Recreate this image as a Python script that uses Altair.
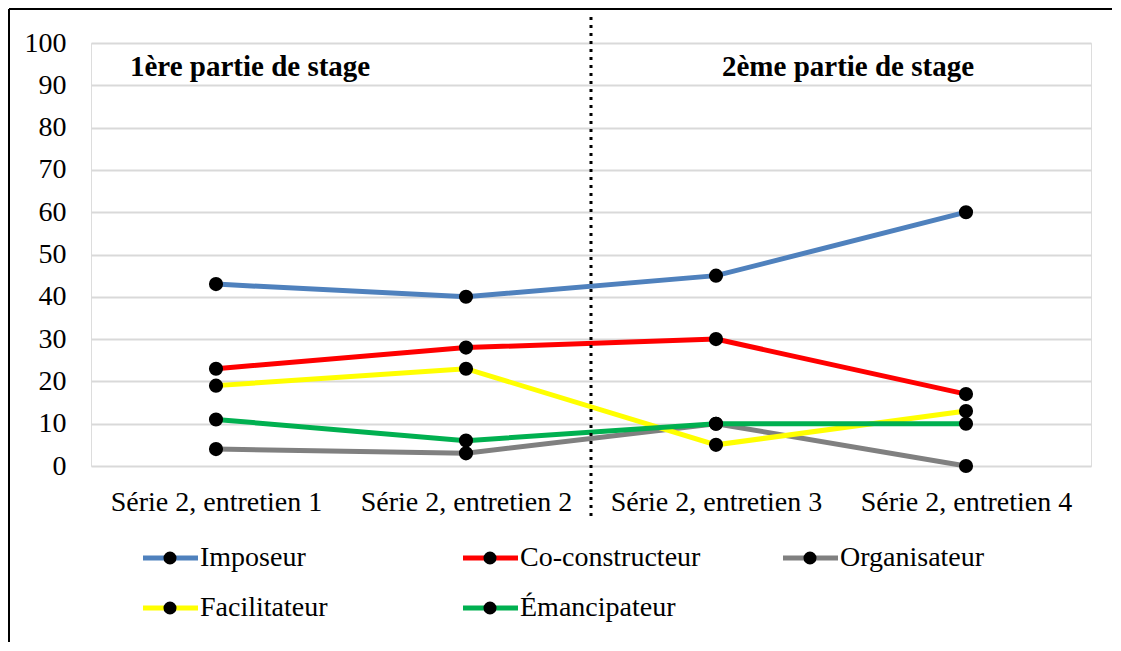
import altair as alt
import pandas as pd

categories = ["Série 2, entretien 1", "Série 2, entretien 2", "Série 2, entretien 3", "Série 2, entretien 4"]
series = ["Imposeur", "Co-constructeur", "Organisateur", "Facilitateur", "Émancipateur"]
colors = ["#4F81BD", "#FF0000", "#808080", "#FFFF00", "#00B050"]
imposeur = [43, 40, 45, 60]
co_constructeur = [23, 28, 30, 17]
organisateur = [4, 3, 10, 0]
facilitateur = [19, 23, 5, 13]
emancipateur = [11, 6, 10, 10]
annotations = ["1ère partie de stage", "2ème partie de stage"]
y_ticks = list(range(0, 101, 10))

values = [imposeur, co_constructeur, organisateur, facilitateur, emancipateur]
rows = []
for s, vals in zip(series, values):
    for c, v in zip(categories, vals):
        rows.append({"serie": s, "cat": c, "val": v})
df = pd.DataFrame(rows)

leg = pd.DataFrame({"serie": series,
                    "col": [i % 3 for i in range(len(series))],
                    "row": [i // 3 for i in range(len(series))]})

W, H = 1000, 423
FONT = "Liberation Serif"
FS = 28

color = alt.Color("serie:N", scale=alt.Scale(domain=series, range=colors), legend=None)
xs = alt.Scale(domain=categories, padding=0.5)
ys = alt.Scale(domain=[0, 100], nice=False)

base = alt.Chart(df)
lines = base.mark_line(strokeWidth=5).encode(
    x=alt.X("cat:N", scale=xs, sort=categories,
            axis=alt.Axis(title=None, labelAngle=0, labelFont=FONT, labelFontSize=FS,
                          labelColor="black", labelPadding=22, ticks=False, domain=False,
                          grid=False, labelBaseline="top", labelLimit=0)),
    y=alt.Y("val:Q", scale=ys,
            axis=alt.Axis(title=None, values=y_ticks, labelFont=FONT, labelFontSize=FS,
                          labelColor="black", labelPadding=25, ticks=False, domain=False,
                          gridColor="#D9D9D9", gridWidth=2)),
    color=color,
)
points = base.mark_circle(size=200, color="black", opacity=1).encode(
    x=alt.X("cat:N", scale=xs, sort=categories, axis=None),
    y=alt.Y("val:Q", scale=ys, axis=None),
    detail="serie:N",
)

one = pd.DataFrame({"a": [0]})
divider = alt.Chart(one).mark_rule(strokeDash=[3, 5], strokeWidth=3, color="black").encode(
    x=alt.value(W / 2), y=alt.value(-26), y2=alt.value(474))

ann1 = alt.Chart(pd.DataFrame({"t": [annotations[0]]})).mark_text(
    align="left", baseline="middle", font=FONT, fontSize=29, fontWeight="bold", color="black"
).encode(x=alt.value(39), y=alt.value(24), text="t:N")
ann2 = alt.Chart(pd.DataFrame({"t": [annotations[1]]})).mark_text(
    align="left", baseline="middle", font=FONT, fontSize=29, fontWeight="bold", color="black"
).encode(x=alt.value(631), y=alt.value(24), text="t:N")

border_top = alt.Chart(one).mark_rule(strokeWidth=2, color="black").encode(
    x=alt.value(-82), x2=alt.value(1021), y=alt.value(-34))
border_left = alt.Chart(one).mark_rule(strokeWidth=2, color="black").encode(
    x=alt.value(-82), y=alt.value(-34), y2=alt.value(599))

lx = alt.Scale(domain=[0, 2], range=[79, 719])
ly = alt.Scale(domain=[0, 1], range=[515, 565])
lbase = alt.Chart(leg)
leg_line = lbase.mark_rule(strokeWidth=5, xOffset=-27, x2Offset=28).encode(
    x=alt.X("col:Q", scale=lx, axis=None), x2="col:Q",
    y=alt.Y("row:Q", scale=ly, axis=None),
    color=color,
)
leg_pt = lbase.mark_circle(size=170, color="black", opacity=1).encode(
    x=alt.X("col:Q", scale=lx, axis=None),
    y=alt.Y("row:Q", scale=ly, axis=None),
)
leg_txt = lbase.mark_text(align="left", baseline="middle", dx=30, font=FONT, fontSize=FS,
                          color="black").encode(
    x=alt.X("col:Q", scale=lx, axis=None),
    y=alt.Y("row:Q", scale=ly, axis=None),
    text="serie:N",
)

chart = alt.layer(
    lines, points, divider, ann1, ann2, border_top, border_left, leg_line, leg_pt, leg_txt
).resolve_scale(x="independent", y="independent", color="shared").properties(
    width=W, height=H, padding={"left": 0, "top": 0, "right": 0, "bottom": 0}
).configure_view(stroke=None).configure(background="white")

chart.save("out.html", embed_options={"renderer": "svg", "actions": False})
